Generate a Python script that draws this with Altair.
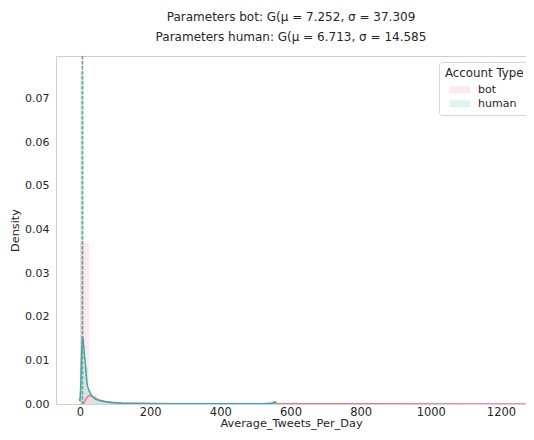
import altair as alt
import pandas as pd

types = ["bot", "human"]
colors = ["#f77189", "#36ada4"]
means = [7.252, 6.713]

bot_bin_left = [0, 25.4, 50.8, 76.2, 101.6, 127.0, 152.4, 177.8, 203.2, 254.0, 381.0, 635.0, 1244.6]
bot_bin_right = [25.4, 50.8, 76.2, 101.6, 127.0, 152.4, 177.8, 203.2, 228.6, 279.4, 406.4, 660.4, 1270.0]
bot_bin_density = [0.037, 0.0022, 0.0009, 0.0005, 0.0003, 0.0002, 0.00015, 0.0001, 0.00008, 0.00005, 0.00003, 0.00002, 0.00002]

human_bin_left = [0, 11.2, 22.4, 33.6, 44.8, 56.0, 67.2, 78.4, 89.6, 100.8, 134.4, 201.6, 548.8]
human_bin_right = [11.2, 22.4, 33.6, 44.8, 56.0, 67.2, 78.4, 89.6, 100.8, 112.0, 145.6, 212.8, 560.0]
human_bin_density = [0.076, 0.0085, 0.0033, 0.0018, 0.0011, 0.0007, 0.0005, 0.0003, 0.0002, 0.00015, 0.0001, 0.00005, 0.0004]

human_kde_x = [-2, 0, 2, 5, 7, 9, 12, 15, 18, 21, 25, 29, 35, 44, 55, 71, 90, 120, 160, 250, 400, 520, 545, 552, 556, 560]
human_kde_y = [0.0013, 0.0006, 0.004, 0.0125, 0.0155, 0.0148, 0.0118, 0.0093, 0.0062, 0.0042, 0.0032, 0.0025, 0.0017,
               0.0011, 0.0008, 0.0005, 0.0003, 0.00015, 0.0001, 0.00005, 0.00004, 0.00006, 0.00015, 0.0004, 0.0005, 0.0003]

bot_kde_x = [8.5, 12, 16, 21, 25, 29, 34, 40, 48, 60, 71, 90, 120, 160, 200, 300, 500, 800, 1100, 1270]
bot_kde_y = [0.0, 0.0004, 0.001, 0.0016, 0.0019, 0.002, 0.0018, 0.0015, 0.0011, 0.0008, 0.0006, 0.0004, 0.00025,
             0.00015, 0.0001, 0.00006, 0.00004, 0.00003, 0.00002, 0.00002]

title_lines = ["Parameters bot: G(\u03bc =  7.252, \u03c3 =  37.309",
               "Parameters human: G(\u03bc =  6.713, \u03c3 =  14.585"]

x_ticks = [0, 200, 400, 600, 800, 1000, 1200]
y_ticks = [0.0, 0.01, 0.02, 0.03, 0.04, 0.05, 0.06, 0.07]

hist = pd.concat([
    pd.DataFrame({"type": "bot", "x0": bot_bin_left, "x1": bot_bin_right, "d": bot_bin_density}),
    pd.DataFrame({"type": "human", "x0": human_bin_left, "x1": human_bin_right, "d": human_bin_density}),
])
kde = pd.concat([
    pd.DataFrame({"type": "bot", "x": bot_kde_x, "y": bot_kde_y}),
    pd.DataFrame({"type": "human", "x": human_kde_x, "y": human_kde_y}),
])
mean_df = pd.DataFrame({"type": types, "m": means, "order": [0, 1]})

xscale = alt.Scale(domain=[-68.4, 1271.4], nice=False, zero=False)
yscale = alt.Scale(domain=[0, 0.0797], nice=False, zero=True)
cscale = alt.Scale(domain=types, range=colors)

xaxis = alt.Axis(values=x_ticks, format="d", title="Average_Tweets_Per_Day", ticks=False, domain=False,
                 grid=False, labelPadding=2, titlePadding=0, labelFontSize=11.5)
yaxis = alt.Axis(values=y_ticks, format=".2f", title="Density", ticks=False, domain=False, grid=False,
                 labelPadding=7, titlePadding=4)

bars = alt.Chart(hist).mark_rect(fillOpacity=0.15, strokeWidth=0, clip=True).encode(
    x=alt.X("x0:Q", scale=xscale, axis=xaxis),
    x2="x1:Q",
    y=alt.Y("d:Q", scale=yscale, axis=yaxis),
    y2=alt.Y2(datum=0),
    fill=alt.Fill("type:N", scale=cscale, legend=alt.Legend(
        title="Account Type", orient="none", legendX=383, legendY=6,
        symbolType="M-1.5,-0.5H1.5V0.5H-1.5Z", symbolSize=196, symbolOpacity=0.15,
        symbolStrokeWidth=0, symbolOffset=8, labelOffset=11, rowPadding=2,
        padding=6, strokeColor="#d6d6d6", fillColor="white", cornerRadius=3,
        titleFontSize=11.8, titleFontWeight="normal", titleFont="DejaVu Sans", titleColor="#262626",
        labelFontSize=11, labelFont="DejaVu Sans", labelColor="#262626", titlePadding=3)),
)

lines = alt.Chart(kde).mark_line(strokeWidth=1.5, clip=True).encode(
    x=alt.X("x:Q", scale=xscale),
    y=alt.Y("y:Q", scale=yscale),
    stroke=alt.Stroke("type:N", scale=cscale, legend=None),
    detail="type:N",
)

rules = alt.Chart(mean_df).mark_rule(strokeWidth=1.5, strokeDash=[3.5, 1.5], opacity=0.75, clip=True).encode(
    x=alt.X("m:Q", scale=xscale),
    stroke=alt.Stroke("type:N", scale=cscale, legend=None),
    order="order:Q",
)

chart = alt.layer(bars, lines, rules).properties(
    width=470, height=348,
    autosize=alt.AutoSizeParams(type="none"),
    padding={"left": 48, "top": 48, "right": 0, "bottom": 28},
    title=alt.TitleParams(text=title_lines, fontSize=12, font="DejaVu Sans", fontWeight="normal",
                          color="#262626", anchor="middle", lineHeight=20, offset=12),
).resolve_scale(fill="independent", stroke="independent").configure_view(
    stroke="#d0d0d0", strokeWidth=1
).configure_axis(
    labelFont="DejaVu Sans", labelFontSize=11, labelColor="#262626",
    titleFont="DejaVu Sans", titleFontSize=11.3, titleFontWeight="normal", titleColor="#262626",
)

chart.save("out.html", embed_options={"renderer": "svg", "actions": False})
